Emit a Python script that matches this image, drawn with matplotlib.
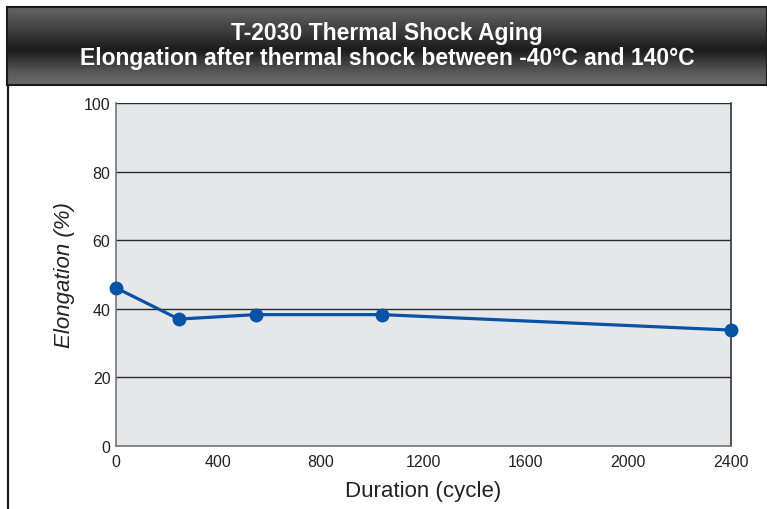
import numpy as np
import matplotlib
matplotlib.use("Agg")
import matplotlib.pyplot as plt
from matplotlib.lines import Line2D

plt.rcParams['font.family'] = ['Liberation Sans', 'DejaVu Sans']

# data
cycles = [0, 245, 545, 1040, 2400]
elongation = [46.1, 37.0, 38.3, 38.3, 33.8]
x_ticks = [0, 400, 800, 1200, 1600, 2000, 2400]
y_ticks = [0, 20, 40, 60, 80, 100]

title_1 = "T-2030 Thermal Shock Aging"
title_2 = "Elongation after thermal shock between -40°C and 140°C"

W, H = 767, 510
fig = plt.figure(figsize=(W / 100, H / 100), dpi=100)

# title banner with a dark gradient
banner = fig.add_axes([7 / W, 1 - 86 / H, 1 - 7 / W, 78 / H])
grad = np.interp(np.linspace(0, 1, 200), [0, 0.08, 0.55, 0.85, 1.0],
                 [0.38, 0.36, 0.11, 0.36, 0.42])
banner.imshow(grad[:, None], cmap='gray', vmin=0, vmax=1, aspect='auto',
              extent=[0, 1, 0, 1])
banner.set_xlim(0, 1)
banner.set_ylim(0, 1)
banner.set_xticks([])
banner.set_yticks([])
for s in banner.spines.values():
    s.set_color('#1a1a1a')
    s.set_linewidth(1.5)
banner.text(0.5, 0.59, title_1, ha='center', va='baseline', color='white',
            fontsize=16.5, fontweight='bold')
banner.text(0.5, 0.27, title_2, ha='center', va='baseline', color='white',
            fontsize=16.5, fontweight='bold')

# left frame line
fig.add_artist(Line2D([7.5 / W, 7.5 / W], [0, 1 - 86 / H], color='#1a1a1a',
                      lw=1.6, transform=fig.transFigure))

ax = fig.add_axes([116 / W, 1 - 447 / H, (730.7 - 116) / W, (447 - 104) / H])
ax.set_facecolor('#e6e7e9')
ax.plot(cycles, elongation, color='#0a52a5', lw=2.3, marker='o',
        markersize=9, clip_on=False, zorder=5)

ax.set_xlim(0, 2400)
ax.set_ylim(0, 100)
ax.set_xticks(x_ticks)
ax.set_yticks(y_ticks)
ax.tick_params(length=0, labelsize=11.5, colors='#222222')
ax.tick_params(axis='x', pad=6)
ax.tick_params(axis='y', pad=4)
ax.yaxis.grid(True, color='#2a2a2a', lw=1)
ax.set_axisbelow(True)
ax.spines['top'].set_visible(False)
ax.spines['left'].set_color('#777777')
ax.spines['bottom'].set_color('#777777')
ax.spines['right'].set_color('#333333')
for s in ax.spines.values():
    s.set_linewidth(1.2)

ax.set_xlabel("Duration (cycle)", fontsize=16, color='#222222', labelpad=8)
ax.set_ylabel("Elongation (%)", fontsize=16, color='#222222', style='italic',
              labelpad=6)

fig.savefig("out.png", dpi=100)
